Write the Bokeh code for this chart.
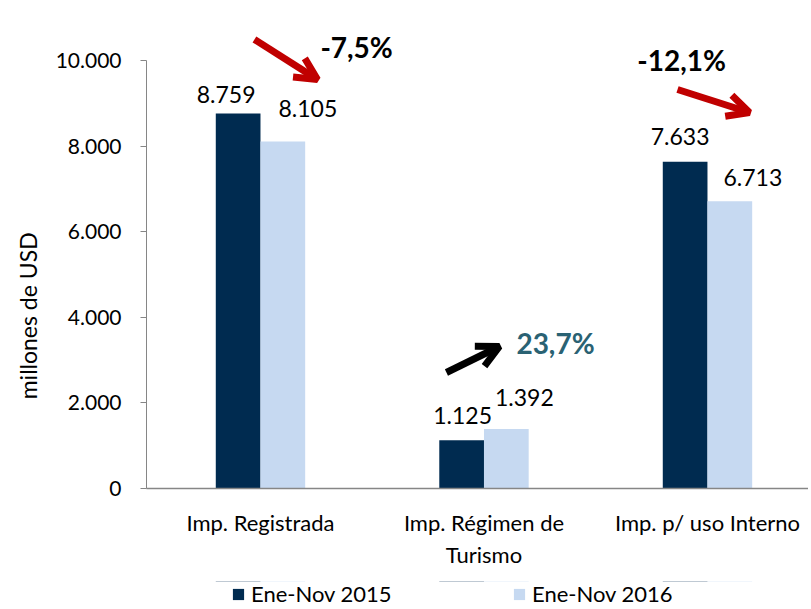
from bokeh.plotting import figure
from bokeh.layouts import column
from bokeh.models import (ColumnDataSource, Legend, LegendItem, Label, Arrow,
                          OpenHead, FixedTicker, Range1d)
from bokeh.core.properties import value
from bokeh.embed import file_html
from bokeh.resources import INLINE

# ---- data ----
categories = ["Imp. Registrada", "Imp. Régimen de\nTurismo", "Imp. p/ uso Interno"]
series_names = ["Ene-Nov 2015", "Ene-Nov 2016"]
values_2015 = [8759, 1125, 7633]
values_2016 = [8105, 1392, 6713]
changes = ["-7,5%", "23,7%", "-12,1%"]
y_ticks = [0, 2000, 4000, 6000, 8000, 10000]

# ---- style ----
DARK = "#002B50"
LIGHT = "#C6D9F1"
FONT = "Lato"

def fmt(v):
    return f"{v:,}".replace(",", ".")

W, H = 808, 581
p = figure(width=W, height=H, output_backend="svg", toolbar_location=None,
           x_range=Range1d(-0.51, 2.452), y_range=Range1d(0, 10958),
           min_border_left=146, min_border_right=0, min_border_top=19,
           min_border_bottom=93)
p.outline_line_color = None
p.xgrid.visible = False
p.ygrid.visible = False
p.background_fill_color = "white"
p.border_fill_color = "white"

idx = list(range(len(categories)))
bw = 0.2
src15 = ColumnDataSource(dict(x=[i - bw / 2 for i in idx], top=values_2015))
src16 = ColumnDataSource(dict(x=[i + bw / 2 for i in idx], top=values_2016))
p.vbar(x="x", top="top", width=bw, source=src15, fill_color=DARK, line_color=None)
p.vbar(x="x", top="top", width=bw, source=src16, fill_color=LIGHT, line_color=None)

# data labels (manual nudges as in the original, in pixels)
dx15 = [-12, 1, -5]
dy15 = [19, 25, 25]
dx16 = [25, 18, 23]
dy16 = [33, 31, 24]
lab15 = ColumnDataSource(dict(x=[i - bw / 2 for i in idx], y=values_2015,
                              t=[fmt(v) for v in values_2015], xo=dx15, yo=[-d for d in dy15]))
lab16 = ColumnDataSource(dict(x=[i + bw / 2 for i in idx], y=values_2016,
                              t=[fmt(v) for v in values_2016], xo=dx16, yo=[-d for d in dy16]))
for s in (lab15, lab16):
    p.text(x="x", y="y", text="t", x_offset="xo", y_offset="yo", source=s,
           text_align="center", text_baseline="middle", text_font=value(FONT),
           text_font_size="23px", text_color="black")

# axes
yax = p.yaxis[0]
yax.ticker = FixedTicker(ticks=y_ticks)
yax.major_label_overrides = {t: fmt(t) for t in y_ticks}
yax.bounds = (0, 10000)
yax.axis_line_color = "#868686"
yax.major_tick_line_color = "#868686"
yax.major_tick_out = 6
yax.major_tick_in = 0
yax.minor_tick_line_color = None
yax.major_label_text_font = FONT
yax.major_label_text_font_size = "21px"
yax.major_label_text_color = "black"
yax.major_label_standoff = 19
yax.axis_label = "millones de  USD" + "\u00a0" * 20
yax.axis_label_text_font = FONT
yax.axis_label_text_font_size = "23px"
yax.axis_label_text_font_style = "normal"
yax.axis_label_text_color = "black"
yax.axis_label_standoff = 11

xax = p.xaxis[0]
xax.ticker = FixedTicker(ticks=idx)
xax.major_label_overrides = {i: c for i, c in zip(idx, categories)}
xax.axis_line_color = "#868686"
xax.axis_line_width = 1.5
xax.major_tick_line_color = None
xax.minor_tick_line_color = None
xax.major_label_text_font = FONT
xax.major_label_text_font_size = "22px"
xax.major_label_text_color = "black"
xax.major_label_standoff = 14

# change annotations
RED = "#C00000"
arrows = [
    ((-0.027, 10491), (0.255, 9556), RED),
    ((0.832, 2710), (1.069, 3318), "black"),
    ((1.866, 9322), (2.188, 8785), RED),
]
for (x0, y0), (x1, y1), col in arrows:
    p.add_layout(Arrow(x_start=x0, y_start=y0, x_end=x1, y_end=y1,
                       line_color=col, line_width=7,
                       end=OpenHead(line_color=col, line_width=7, size=22)))

label_pos = [(0.43, 10327), (1.32, 3388), (1.884, 10023)]
label_col = ["black", "#2A6273", "black"]
for (x, y), t, c in zip(label_pos, changes, label_col):
    p.add_layout(Label(x=x, y=y, text=t, text_align="center", text_baseline="middle",
                       text_font=FONT, text_font_size="28px", text_font_style="bold",
                       text_color=c))

# ---- legend strip (separate small figure under the chart, frames aligned) ----
pl = figure(width=W, height=26, output_backend="svg", toolbar_location=None,
            x_axis_location=None, y_axis_location=None,
            x_range=Range1d(-0.51, 2.452), y_range=Range1d(-2, -1),
            min_border_left=0, min_border_right=0, min_border_top=0, min_border_bottom=0)
pl.outline_line_color = None
pl.xgrid.visible = False
pl.ygrid.visible = False
pl.background_fill_color = "white"
pl.border_fill_color = "white"
# same series, drawn outside this strip's view: only their legend swatches show
e15 = pl.vbar(x="x", top="top", width=bw, source=src15, fill_color=DARK, line_color=None)
e16 = pl.vbar(x="x", top="top", width=bw, source=src16, fill_color=LIGHT, line_color=None)
legend = Legend(items=[LegendItem(label=series_names[0], renderers=[e15]),
                       LegendItem(label=series_names[1], renderers=[e16])],
                orientation="horizontal", location=(85, 0),
                glyph_width=14, glyph_height=14, label_standoff=6,
                label_width=191, spacing=70, padding=0, margin=0,
                border_line_color=None, background_fill_alpha=0,
                label_text_font=FONT, label_text_font_size="22px",
                label_text_color="black")
pl.add_layout(legend, "center")

layout = column(p, pl, spacing=0)
open("out.html", "w").write(file_html(layout, INLINE))
